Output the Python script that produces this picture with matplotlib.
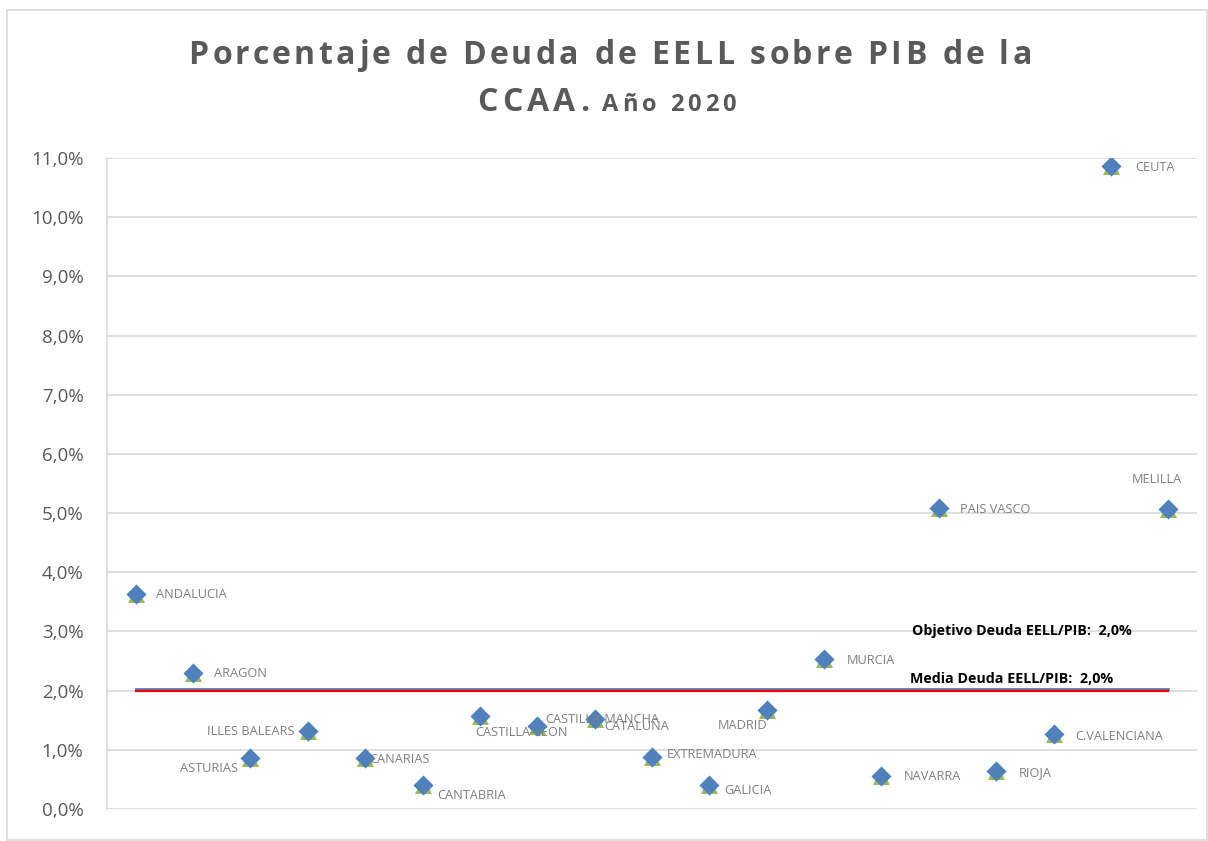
import matplotlib
matplotlib.use('Agg')
import matplotlib.pyplot as plt
import matplotlib.transforms as mtransforms
from matplotlib.patches import Rectangle
from matplotlib.ticker import FuncFormatter

# Deuda de las entidades locales sobre PIB por comunidad, 2020 (%)
ccaa = ['ANDALUCIA', 'ARAGON', 'ASTURIAS', 'ILLES BALEARS', 'CANARIAS', 'CANTABRIA',
        'CASTILLA-LEON', 'CASTILLA-MANCHA', 'CATALUÑA', 'EXTREMADURA', 'GALICIA',
        'MADRID', 'MURCIA', 'NAVARRA', 'PAIS VASCO', 'RIOJA', 'C.VALENCIANA',
        'CEUTA', 'MELILLA']
deuda = [3.63, 2.29, 0.86, 1.31, 0.86, 0.40, 1.57, 1.41, 1.52, 0.88, 0.40,
         1.67, 2.53, 0.56, 5.08, 0.64, 1.26, 10.86, 5.07]
objetivo = 2.0
media = 2.0

# desplazamiento (px) y alineacion de cada etiqueta respecto a su punto
etiq_pos = [(20, 0, 'left'), (21, 0, 'left'), (-12, -10, 'right'), (-13, 0, 'right'),
            (4, -1, 'left'), (15, -10, 'left'), (-5, -16, 'left'), (8, 6, 'left'),
            (10, -7, 'left'), (15, 2, 'left'), (15, -5, 'left'), (1, -15, 'right'),
            (23, -1, 'left'), (22, -1, 'left'), (21, -1, 'left'), (23, -1, 'left'),
            (22, -2, 'left'), (24, -1, 'left'), (-11, 29, 'center')]

plt.rcParams['font.family'] = ['Open Sans', 'DejaVu Sans']

W, H = 1208, 841
fig = plt.figure(figsize=(W / 100, H / 100), dpi=100)
ax = fig.add_axes([107 / W, 1 - 809 / H, 1090 / W, (809 - 158) / H])

x = list(range(1, len(ccaa) + 1))

ax.set_xlim(0.5, len(ccaa) + 0.5)
ax.set_ylim(0, 11)
ax.set_yticks(range(0, 12))
ax.yaxis.set_major_formatter(FuncFormatter(lambda v, p: f'{v:.1f}%'.replace('.', ',')))
ax.set_xticks([])
ax.grid(axis='y', color='#D9D9D9', linewidth=1.2)
ax.set_axisbelow(True)
for s in ['top', 'right', 'bottom']:
    ax.spines[s].set_visible(False)
ax.spines['left'].set_color('#D9D9D9')
ax.spines['left'].set_linewidth(1.2)
ax.tick_params(axis='y', length=0, pad=17, labelsize=13.5, labelcolor='#595959')

# lineas de objetivo (azul, algo por encima) y media (roja)
arriba = mtransforms.offset_copy(ax.transData, fig=fig, x=0, y=1.6, units='dots')
ax.plot([x[0], x[-1]], [objetivo, objetivo], color='#4F81BD', linewidth=2.0,
        transform=arriba, zorder=2)
ax.plot([x[0], x[-1]], [media, media], color='#FF0000', linewidth=1.6, zorder=3)

ax.scatter(x, deuda, marker='^', s=150, color='#9BBB59', zorder=4, linewidths=0)
ax.scatter(x, deuda, marker='D', s=105, color='#4F81BD', zorder=5, linewidths=0)

for xi, yi, nombre, (dx, dy, ha) in zip(x, deuda, ccaa, etiq_pos):
    ax.annotate(nombre, (xi, yi), xytext=(dx, dy), textcoords='offset pixels',
                ha=ha, va='center', fontsize=9.2, color='#7F7F7F', zorder=6)

ax.annotate(f'Objetivo Deuda EELL/PIB:  {objetivo:.1f}%'.replace('.', ','),
            (x[-1], objetivo), xytext=(-146, 60), textcoords='offset pixels',
            ha='center', va='center', fontsize=10.3, fontweight='bold', color='black')
ax.annotate(f'Media Deuda EELL/PIB:  {media:.1f}%'.replace('.', ','),
            (x[-1], media), xytext=(-157, 12), textcoords='offset pixels',
            ha='center', va='center', fontsize=10.3, fontweight='bold', color='black')


# titulo con espaciado entre letras
def ancho(s, **kw):
    r = fig.canvas.get_renderer()
    t = fig.text(0, 0, s, **kw)
    w = t.get_window_extent(r).width
    t.remove()
    return w


def texto_espaciado(x0, y0, s, sep, **kw):
    base = ancho('xx', **kw)
    anchos = [ancho('x' + c + 'x', **kw) - base for c in s]
    pos = x0
    for c, w in zip(s, anchos):
        if c != ' ':
            fig.text(pos / W, 1 - y0 / H, c, ha='left', va='baseline', **kw)
        pos += w + sep
    return pos - sep


estilo = dict(fontweight='bold', color='#595959')
linea1 = 'Porcentaje de Deuda de EELL sobre PIB de la'
kw1 = dict(fontsize=23, **estilo)
sep1 = 3.7
w1 = sum(ancho('x' + c + 'x', **kw1) - ancho('xx', **kw1) for c in linea1) + sep1 * (len(linea1) - 1)
texto_espaciado(610 - w1 / 2, 64, linea1, sep1, **kw1)
fin = texto_espaciado(477, 111, 'CCAA.', 4.5, fontsize=23, **estilo)
texto_espaciado(fin + 13, 111, 'Año 2020', 4, fontsize=17, **estilo)

# borde del grafico
fig.patches.append(Rectangle((7 / W, 1 - 840 / H), 1200 / W, 830 / H,
                             transform=fig.transFigure, fill=False,
                             edgecolor='#D9D9D9', linewidth=1.2))

fig.savefig('out.png', dpi=100)
